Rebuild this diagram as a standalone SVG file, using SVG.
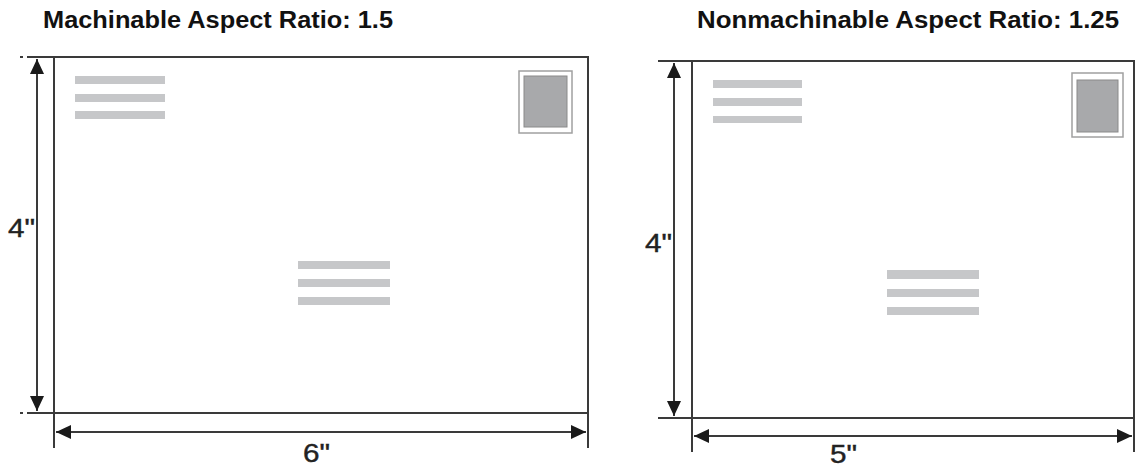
<svg xmlns="http://www.w3.org/2000/svg" width="1137" height="466" viewBox="0 0 1137 466">
<style>
.ln{stroke:#3a3a3a;stroke-width:2;fill:none}
.bar{fill:#c6c7c9}
.so{fill:#fff;stroke:#a0a0a0;stroke-width:1.5}
.si{fill:#a8a9ab;stroke:#8a8a8a;stroke-width:1}
.title{font-family:"Liberation Sans",Arial,sans-serif;font-weight:bold;font-size:23px;fill:#111}
.dim{font-family:"Liberation Sans",Arial,sans-serif;font-size:25px;fill:#222;stroke:#222;stroke-width:0.4}
</style>
<defs>
<marker id="ah" markerUnits="userSpaceOnUse" markerWidth="16" markerHeight="16" viewBox="0 0 16 16" refX="15" refY="8" orient="auto-start-reverse">
<path d="M0,1 L15,8 L0,15 Z" fill="#1a1a1a"/>
</marker>
</defs>
<rect width="1137" height="466" fill="#fff"/>
<text class="title" x="43" y="28" textLength="350" lengthAdjust="spacingAndGlyphs">Machinable Aspect Ratio: 1.5</text>
<text class="title" x="697" y="28" textLength="422" lengthAdjust="spacingAndGlyphs">Nonmachinable Aspect Ratio: 1.25</text>
<g id="envelope-machinable">
<rect class="ln" x="54" y="57" width="534" height="356"/>
<rect class="bar" x="75" y="76" width="90" height="8"/>
<rect class="bar" x="75" y="94" width="90" height="8"/>
<rect class="bar" x="75" y="111" width="90" height="8"/>
<rect class="bar" x="298" y="261" width="92" height="8"/>
<rect class="bar" x="298" y="279" width="92" height="8"/>
<rect class="bar" x="298" y="297" width="92" height="8"/>
<rect class="so" x="519" y="71" width="53" height="62"/>
<rect class="si" x="524" y="76" width="43" height="51"/>
</g>
<g id="envelope-nonmachinable">
<rect class="ln" x="692" y="61" width="442" height="357"/>
<rect class="bar" x="713" y="80" width="89" height="8"/>
<rect class="bar" x="713" y="98" width="89" height="8"/>
<rect class="bar" x="713" y="116" width="89" height="7"/>
<rect class="bar" x="887" y="270" width="92" height="9"/>
<rect class="bar" x="887" y="289" width="92" height="8"/>
<rect class="bar" x="887" y="307" width="92" height="8"/>
<rect class="so" x="1072" y="73" width="51" height="64"/>
<rect class="si" x="1077" y="80" width="41" height="52"/>
</g>
<g id="connectors">
<line class="ln" x1="20" y1="57" x2="23" y2="57"/>
<line class="ln" x1="27" y1="57" x2="54" y2="57"/>
<line class="ln" x1="20" y1="413" x2="23" y2="413"/>
<line class="ln" x1="27" y1="413" x2="54" y2="413"/>
<line class="ln" x1="54" y1="413" x2="54" y2="448"/>
<line class="ln" x1="588" y1="413" x2="588" y2="448"/>
<line class="ln" x1="37" y1="59" x2="37" y2="411" marker-start="url(#ah)" marker-end="url(#ah)"/>
<line class="ln" x1="56" y1="432" x2="586" y2="432" marker-start="url(#ah)" marker-end="url(#ah)"/>
<line class="ln" x1="658" y1="61" x2="692" y2="61"/>
<line class="ln" x1="658" y1="418" x2="692" y2="418"/>
<line class="ln" x1="692" y1="418" x2="692" y2="452"/>
<line class="ln" x1="1134" y1="418" x2="1134" y2="452"/>
<line class="ln" x1="674" y1="63" x2="674" y2="416" marker-start="url(#ah)" marker-end="url(#ah)"/>
<line class="ln" x1="694" y1="436" x2="1132" y2="436" marker-start="url(#ah)" marker-end="url(#ah)"/>
</g>
<text class="dim" x="8" y="237" textLength="27" lengthAdjust="spacingAndGlyphs">4"</text>
<text class="dim" x="645" y="252" textLength="27" lengthAdjust="spacingAndGlyphs">4"</text>
<text class="dim" x="303" y="462" textLength="27" lengthAdjust="spacingAndGlyphs">6"</text>
<text class="dim" x="830" y="463" font-size="23" textLength="27" lengthAdjust="spacingAndGlyphs">5"</text>
</svg>
